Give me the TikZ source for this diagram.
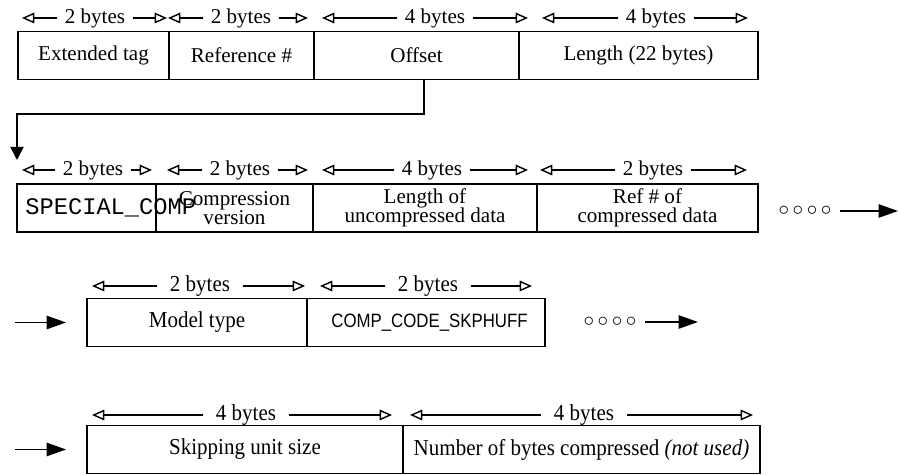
\documentclass[tikz,border=0pt]{standalone}
\usepackage{fontspec}
\setmainfont{Liberation Serif}
\setmonofont{Liberation Mono}
\newfontfamily\narrowSerif[FakeStretch=0.92]{Liberation Serif}
\newfontfamily\narrowSans[FakeStretch=0.87]{Liberation Sans}
\usepackage{tikz}
\usetikzlibrary{arrows.meta,positioning,calc}
\tikzset{
    fieldBase/.style={
        rectangle,
        draw,
        line width=1.1pt,
        minimum height=0.96cm,
        inner sep=0pt,
        align=center,
        font=\fontsize{12}{11}\selectfont
    },
    % Rows 3 and 4 are set a bit narrower
    fieldNarrow/.style={fieldBase, font=\narrowSerif\fontsize{13}{13}\selectfont},
    monoText/.style={inner sep=0pt, font=\ttfamily\fontsize{13.5}{13.5}\selectfont},
    sansNarrow/.style={inner sep=0pt, font=\narrowSans\fontsize{11}{11}\selectfont},
    dotsText/.style={inner sep=5pt, font=\fontsize{13}{13}\selectfont},
    byteLabel/.style={inner xsep=4pt, inner ysep=0pt, font=\fontsize{12}{12}\selectfont},
    byteNarrow/.style={inner xsep=7pt, inner ysep=0pt, font=\narrowSerif\fontsize{13}{13}\selectfont},
    % Arrows
    sizeArrow/.style={-{Triangle[open,length=7pt,width=6pt]}, line width=0.8pt},
    flowArrow/.style={-{Triangle[length=11pt,width=7.5pt]}, line width=1.1pt}
}
\begin{document}
\begin{tikzpicture}[x=0.02cm, y=-0.02cm]
    \useasboundingbox (0,0) rectangle (900,475);

    % Row 1: extended tag header
    \node[fieldBase, minimum width=3.02cm] (ext) at (93.5,55.5) {Extended tag};
    \node[fieldBase, minimum width=2.90cm] (ref) at (241.5,55.5) {Reference \#};
    \node[fieldBase, minimum width=4.10cm] (off) at (416.5,55.5) {Offset};
    \node[fieldBase, minimum width=4.78cm] (len) at (638.5,55.5) {Length (22 bytes)};

    % Row 2: compression header
    \node[fieldBase, minimum width=2.78cm] (sc) at (86.5,208) {};
    \node[monoText, anchor=west] (spc) at (25,208) {SPECIAL\_COMP};
    \node[fieldBase, minimum width=3.14cm] (cv) at (234.5,208) {Compression\\version};
    \node[fieldBase, minimum width=4.48cm] (lu) at (425,208) {Length of\\uncompressed data};
    \node[fieldBase, minimum width=4.42cm] (rc) at (647.5,208) {Ref \# of\\compressed data};
    \node[dotsText] (more2) at (805,211) {${\circ}\,{\circ}\,{\circ}\,{\circ}$};
    \coordinate (out2) at (898,211);

    % Row 3: model and coder
    \node[fieldNarrow, minimum width=4.40cm] (mt) at (197,322.5) {Model type};
    \node[fieldNarrow, minimum width=4.76cm] (cc) at (426,322.5) {};
    \node[sansNarrow] (ccText) at (429.5,322.5) {COMP\_CODE\_SKPHUFF};
    \node[dotsText] (more3) at (610,322) {${\circ}\,{\circ}\,{\circ}\,{\circ}$};
    \coordinate (out3) at (698,322);
    \coordinate (in3) at (15,322.5);

    % Row 4: skipping huffman info
    \node[fieldNarrow, minimum width=6.32cm] (su) at (245,449.5) {Skipping unit size};
    \node[fieldNarrow, minimum width=7.14cm] (nb) at (581.5,449.5) {Number of bytes compressed \textit{(not used)}};
    \coordinate (in4) at (15,449.5);

    % Byte counts
    \foreach \lt/\cx/\rt/\yy/\txt [count=\i] in {
        22/95/167/18/2 bytes, 168/241/308/18/2 bytes, 322/435/528/18/4 bytes, 542/656/748/18/4 bytes,
        22/93/152/170/2 bytes, 167/240/308/170/2 bytes, 322/432/528/170/4 bytes, 540/653/747/170/2 bytes} {
        \coordinate (lt\i) at (\lt,\yy);
        \coordinate (rt\i) at (\rt,\yy);
        \node[byteLabel] (bl\i) at (\cx,\yy) {\txt};
        \draw[sizeArrow] (bl\i) -- (lt\i);
        \draw[sizeArrow] (bl\i) -- (rt\i);
    }
    \foreach \lt/\cx/\rt/\yy/\txt [count=\i] in {
        92/200/305/286/2 bytes, 320/428/532/286/2 bytes,
        92/246/392/415/4 bytes, 410/584/753/415/4 bytes} {
        \coordinate (ln\i) at (\lt,\yy);
        \coordinate (rn\i) at (\rt,\yy);
        \node[byteNarrow] (bn\i) at (\cx,\yy) {\txt};
        \draw[sizeArrow] (bn\i) -- (ln\i);
        \draw[sizeArrow] (bn\i) -- (rn\i);
    }

    % Connections
    \coordinate (bend) at (17,114);
    \coordinate (drop) at (17,160);
    \draw[flowArrow, -{Triangle[length=7.5pt,width=7.5pt]}] ([xshift=0.15cm]off.south) |- (bend) -- (drop);
    \draw[flowArrow] (more2) -- (out2);
    \draw[flowArrow] (more3) -- (out3);
    \draw[flowArrow] (in3) -- ([xshift=-0.4cm]mt.west);
    \draw[flowArrow] (in4) -- ([xshift=-0.4cm]su.west);
\end{tikzpicture}
\end{document}
